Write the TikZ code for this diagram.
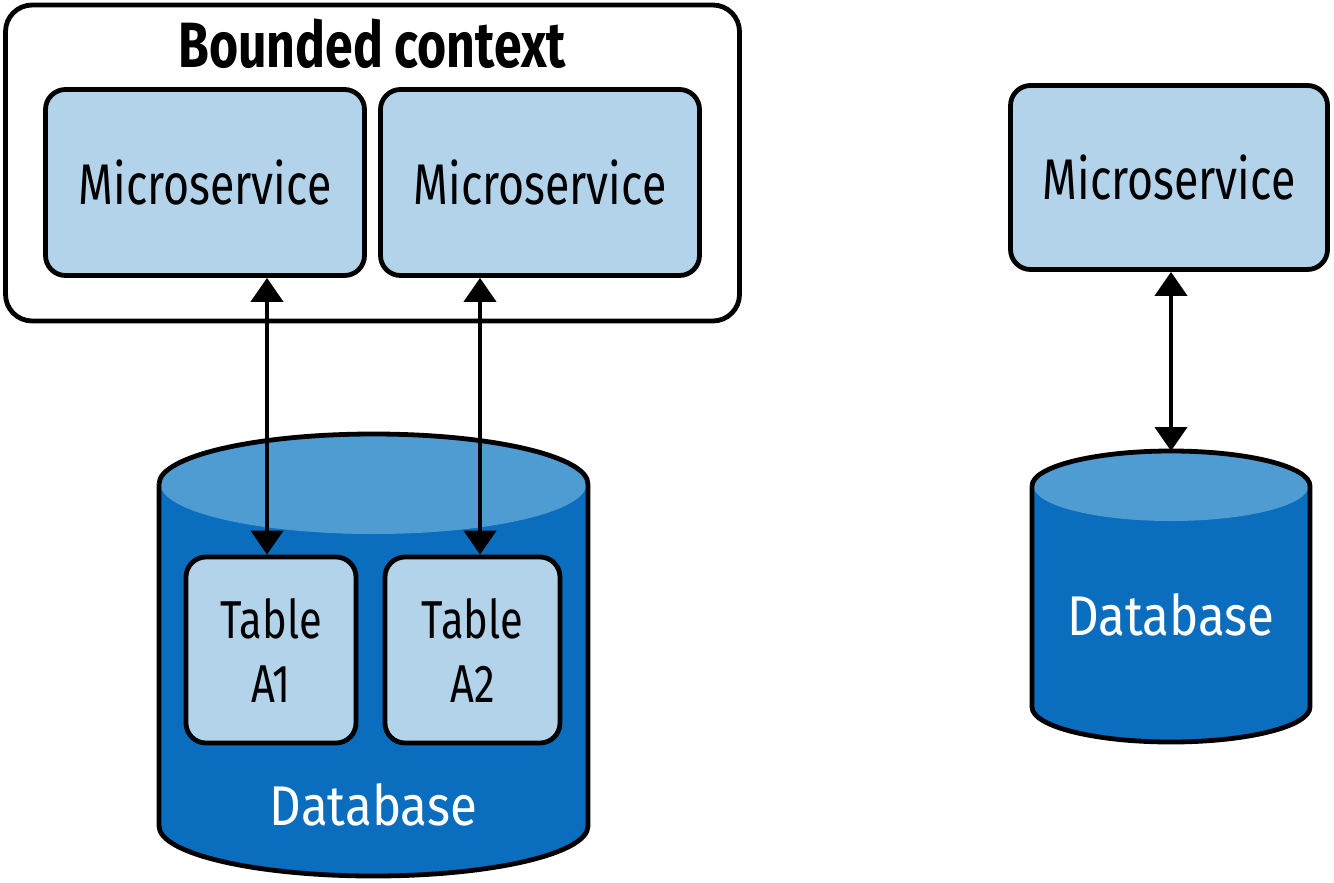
\documentclass[tikz,border=0pt]{standalone}
\usepackage{fontspec}
\setmainfont[FakeStretch=0.78]{Fira Sans}
\newfontfamily\dbfont[FakeStretch=0.88]{Fira Sans}
\usetikzlibrary{arrows.meta}
\definecolor{msfill}{HTML}{B2D3EA}
\definecolor{dbdark}{HTML}{0A6DBE}
\definecolor{dbtop}{HTML}{4E9CD2}
\tikzset{
  px/.style={x=0.75pt,y=-0.75pt},
  edge/.style={line width=3.6pt, line join=round},
  box/.style={draw, line width=3.6pt, rounded corners=15pt, fill=msfill, inner sep=0pt, align=center, font=\fontsize{43}{48}\selectfont},
  tbox/.style={box, font=\fontsize{40}{48}\selectfont},
  conn/.style={line width=3.2pt, {Triangle[length=18pt,width=24pt]}-{Triangle[length=18pt,width=24pt]}},
  dblabel/.style={text=white, font=\dbfont\fontsize{42}{46}\selectfont, inner sep=0pt},
}
\begin{document}
\begin{tikzpicture}[px]
\useasboundingbox (0,0) rectangle (1334,882);
% bounded context
\node[draw, line width=3.6pt, rounded corners=20pt, minimum width=734*0.75pt, minimum height=316*0.75pt, inner sep=0pt] (bc) at (372.5,163) {};
\node[font=\bfseries\fontsize{48}{52}\selectfont, inner sep=0pt] (title) at (372,44) {Bounded context};
\node[box, minimum width=319*0.75pt, minimum height=186*0.75pt] (ms1) at (205,182.5) {Microservice};
\node[box, minimum width=319*0.75pt, minimum height=186*0.75pt] (ms2) at (540,182.5) {Microservice};
\node[box, minimum width=317*0.75pt, minimum height=184*0.75pt] (ms3) at (1169,177.5) {Microservice};
% left database
\fill[dbdark] (159,484) -- (159,826) arc[start angle=180,end angle=0,x radius=214.5,y radius=50] -- (588,484) arc[start angle=360,end angle=180,x radius=214.5,y radius=50] -- cycle;
\fill[dbtop] (373.5,484) ellipse[x radius=213,y radius=50];
\draw[edge] (159,484) -- (159,826) arc[start angle=180,end angle=0,x radius=214.5,y radius=50] -- (588,484) arc[start angle=360,end angle=180,x radius=214.5,y radius=50];
\coordinate (db1) at (373.5,434);
\node[dblabel] (db1label) at (373.5,805) {Database};
\node[tbox, minimum width=170*0.75pt, minimum height=186*0.75pt] (t1) at (271,650) {Table\\A1};
\node[tbox, minimum width=175*0.75pt, minimum height=186*0.75pt] (t2) at (472.5,650) {Table\\A2};
% right database
\fill[dbdark] (1032,486) -- (1032,707) arc[start angle=180,end angle=0,x radius=139,y radius=35] -- (1310,486) arc[start angle=360,end angle=180,x radius=139,y radius=35] -- cycle;
\fill[dbtop] (1171,486) ellipse[x radius=137.5,y radius=35];
\draw[edge] (1032,486) -- (1032,707) arc[start angle=180,end angle=0,x radius=139,y radius=35] -- (1310,486) arc[start angle=360,end angle=180,x radius=139,y radius=35];
\coordinate (db2) at (1171,451);
\node[dblabel] (db2label) at (1171,615) {Database};
% connectors
\draw[conn] (t1.north -| 267,0) -- (ms1.south -| 267,0);
\draw[conn] (t2.north -| 480,0) -- (ms2.south -| 480,0);
\draw[conn] (db2) -- (ms3.south -| db2);
\end{tikzpicture}
\end{document}
